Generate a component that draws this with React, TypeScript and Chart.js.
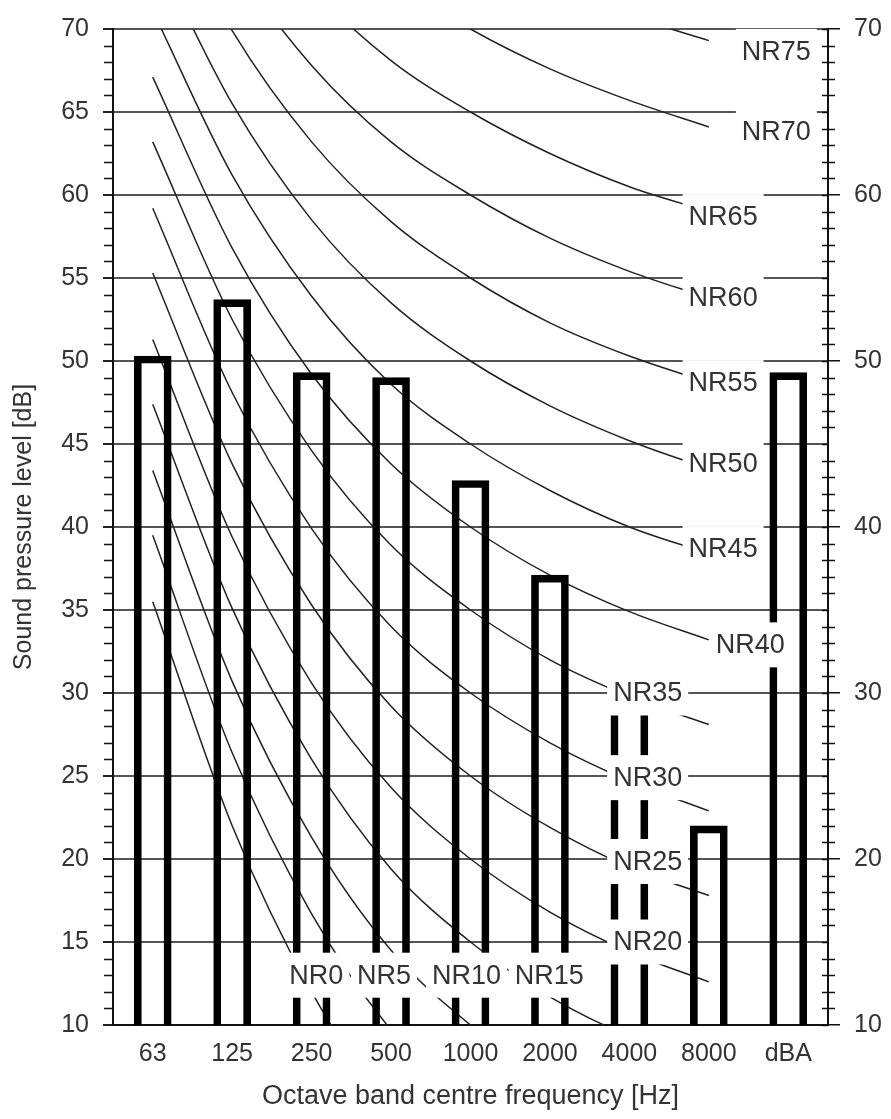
import React, { useEffect, useRef } from 'react';
import { Chart, registerables } from 'chart.js';

Chart.register(...registerables);

const categories = ['63', '125', '250', '500', '1000', '2000', '4000', '8000', 'dBA'];
const measured = [50.3, 53.7, 49.3, 49.0, 42.8, 37.1, 29.5, 22.0, 49.3];

// NR curve levels per octave band (63 … 8000 Hz), no value at dBA
const nr0 = [35.5, 22.0, 12.0, 4.8, 0, -3.5, -6.1, -8.0, null];
const nr5 = [39.5, 26.4, 16.7, 9.7, 5, 1.6, -1.0, -2.9, null];
const nr10 = [43.4, 30.7, 21.3, 14.5, 10, 6.7, 4.2, 2.3, null];
const nr15 = [47.4, 35.1, 26.0, 19.4, 15, 11.7, 9.3, 7.5, null];
const nr20 = [51.3, 39.4, 30.6, 24.3, 20, 16.8, 14.4, 12.6, null];
const nr25 = [55.3, 43.8, 35.3, 29.2, 25, 21.9, 19.5, 17.8, null];
const nr30 = [59.2, 48.1, 39.9, 34.0, 30, 27.0, 24.7, 22.9, null];
const nr35 = [63.2, 52.5, 44.6, 38.9, 35, 32.0, 29.8, 28.1, null];
const nr40 = [67.1, 56.8, 49.2, 43.8, 40, 37.1, 34.9, 33.2, null];
const nr45 = [71.1, 61.2, 53.9, 48.6, 45, 42.2, 40.0, 38.4, null];
const nr50 = [75.0, 65.5, 58.5, 53.5, 50, 47.3, 45.2, 43.5, null];
const nr55 = [79.0, 69.9, 63.2, 58.4, 55, 52.3, 50.3, 48.7, null];
const nr60 = [82.9, 74.2, 67.8, 63.2, 60, 57.4, 55.4, 53.8, null];
const nr65 = [86.9, 78.6, 72.5, 68.1, 65, 62.5, 60.5, 59.0, null];
const nr70 = [90.8, 82.9, 77.1, 73.0, 70, 67.6, 65.7, 64.1, null];
const nr75 = [94.8, 87.3, 81.8, 77.9, 75, 72.6, 70.8, 69.3, null];
const nrCurves = [nr0, nr5, nr10, nr15, nr20, nr25, nr30, nr35, nr40, nr45, nr50, nr55, nr60, nr65, nr70, nr75];

// curve labels: text, category position, level
const labelTexts = ['NR0', 'NR5', 'NR10', 'NR15', 'NR20', 'NR25', 'NR30', 'NR35', 'NR40', 'NR45', 'NR50', 'NR55', 'NR60', 'NR65', 'NR70', 'NR75'];
const labelCat = [2.06, 2.91, 3.95, 4.99, 6.23, 6.23, 6.23, 6.23, 7.52, 7.18, 7.18, 7.18, 7.18, 7.18, 7.85, 7.85];
const labelLevel = [13.0, 13.0, 13.0, 13.0, 15.0, 19.85, 24.9, 30.0, 32.9, 38.7, 43.8, 48.7, 53.8, 58.7, 63.8, 68.65];

const yMin = 10;
const yMax = 70;
const yStep = 5;

const FONT = "'Liberation Sans', Arial, sans-serif";
const TEXT = '#333';

const minorTicksPlugin = {
  id: 'minorTicks',
  beforeDatasetsDraw(chart: any) {
    const { ctx, chartArea, scales } = chart;
    const y = scales.y;
    ctx.save();
    ctx.strokeStyle = '#111';
    ctx.lineWidth = 1.5;
    for (let v = yMin; v <= yMax; v += 1) {
      const py = Math.round(y.getPixelForValue(v)) + 0.5;
      ctx.beginPath();
      if (v % yStep !== 0) {
        ctx.moveTo(chartArea.left - 9, py);
        ctx.lineTo(chartArea.left, py);
        ctx.moveTo(chartArea.right - 6, py);
        ctx.lineTo(chartArea.right + 7, py);
      } else {
        ctx.moveTo(chartArea.right - 6, py);
        ctx.lineTo(chartArea.right, py);
      }
      ctx.stroke();
    }
    ctx.restore();
  },
};

const curveLabelPlugin = {
  id: 'curveLabels',
  afterDatasetsDraw(chart: any) {
    const { ctx, scales } = chart;
    ctx.save();
    ctx.font = `27px ${FONT}`;
    ctx.textAlign = 'center';
    ctx.textBaseline = 'middle';
    labelTexts.forEach((t, i) => {
      const px = scales.x.getPixelForValue(labelCat[i]);
      const py = scales.y.getPixelForValue(labelLevel[i]);
      const w = ctx.measureText(t).width + 12;
      const h = 45;
      ctx.fillStyle = '#fff';
      ctx.fillRect(px - w / 2, py - h / 2, w, h);
      ctx.fillStyle = TEXT;
      ctx.fillText(t, px, py + 1);
    });
    ctx.restore();
  },
};

export default function App() {
  const ref = useRef<HTMLCanvasElement | null>(null);

  useEffect(() => {
    if (!ref.current) return;
    const lineSets = nrCurves.map((d, i) => ({
      type: 'line' as const,
      label: labelTexts[i],
      data: d,
      borderColor: '#222',
      borderWidth: 1.5,
      pointRadius: 0,
      fill: false,
      cubicInterpolationMode: 'monotone' as const,
      order: 2,
    }));
    const chart = new Chart(ref.current, {
      type: 'bar',
      data: {
        labels: categories,
        datasets: [
          {
            type: 'bar',
            label: 'Measured',
            data: measured,
            backgroundColor: 'rgba(255,255,255,0)',
            borderColor: '#000',
            borderWidth: 7,
            borderSkipped: 'bottom',
            barThickness: 37,
            order: 1,
          } as any,
          ...lineSets,
        ],
      },
      options: {
        responsive: false,
        animation: false,
        layout: { padding: { top: 25, left: 0, right: 0, bottom: 0 } },
        plugins: { legend: { display: false }, tooltip: { enabled: false } },
        scales: {
          x: {
            offset: true,
            grid: { display: false, drawTicks: false },
            border: { display: true, color: '#111', width: 2 },
            ticks: { color: TEXT, font: { family: FONT, size: 25 }, padding: 14, maxRotation: 0 },
            title: {
              display: true,
              text: 'Octave band centre frequency [Hz]',
              color: TEXT,
              font: { family: FONT, size: 27 },
              padding: { top: 0, bottom: 6 },
            },
            afterFit: (s: any) => { s.height = 94; },
          },
          y: {
            position: 'left',
            min: yMin,
            max: yMax,
            grid: { color: '#555', lineWidth: 2, tickLength: 10, tickColor: '#222', tickWidth: 2 },
            border: { display: true, color: '#111', width: 2 },
            ticks: { stepSize: yStep, color: TEXT, font: { family: FONT, size: 25 }, padding: 14 },
            title: {
              display: true,
              text: 'Sound pressure level [dB]',
              color: TEXT,
              font: { family: FONT, size: 25 },
              padding: { top: 9, bottom: 0 },
            },
            afterFit: (s: any) => { s.width = 113; },
          },
          y2: {
            position: 'right',
            min: yMin,
            max: yMax,
            grid: { drawOnChartArea: false, tickLength: 12, color: '#111', lineWidth: 1.5 },
            border: { display: true, color: '#111', width: 2 },
            ticks: { stepSize: yStep * 2, color: TEXT, font: { family: FONT, size: 25 }, padding: 14 },
            afterFit: (s: any) => { s.width = 63; },
          },
        },
      } as any,
      plugins: [minorTicksPlugin, curveLabelPlugin],
    });
    return () => chart.destroy();
  }, []);

  return (
    <div style={{ position: 'absolute', left: 0, top: 0, width: 891, height: 1119, background: '#fff' }}>
      <canvas ref={ref} width={891} height={1119} />
    </div>
  );
}
